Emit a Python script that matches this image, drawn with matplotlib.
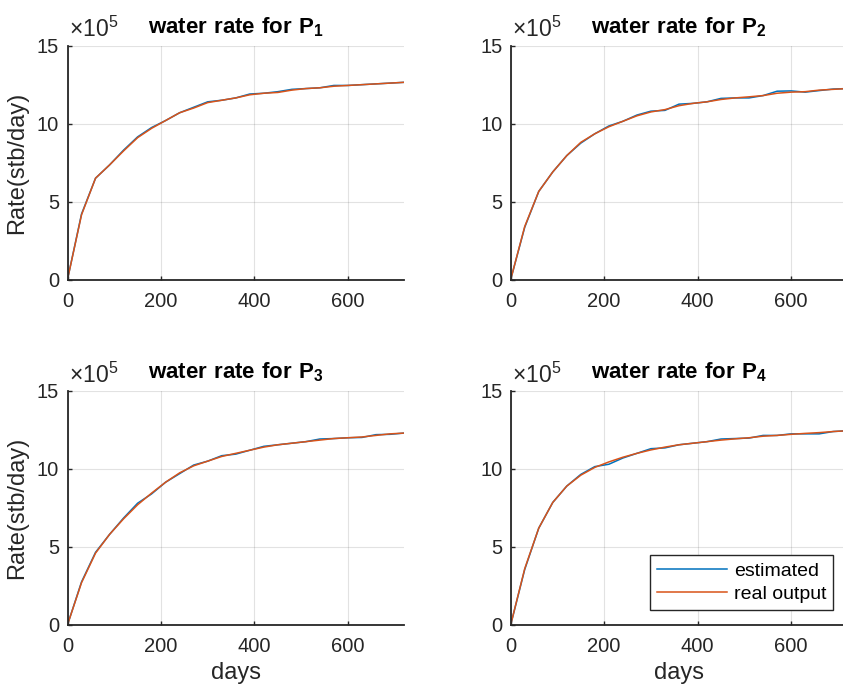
import numpy as np
import matplotlib
matplotlib.use("Agg")
import matplotlib.pyplot as plt

plt.rcParams['font.family'] = ['Liberation Sans', 'DejaVu Sans']
plt.rcParams['mathtext.fontset'] = 'custom'
plt.rcParams['mathtext.rm'] = 'Liberation Sans'
plt.rcParams['mathtext.bf'] = 'Liberation Sans:bold'

# days (sampled roughly every month)
days = [0, 30, 60, 90, 120, 150, 180, 210, 240, 270, 300, 330, 360,
        390, 420, 450, 480, 510, 540, 570, 600, 630, 660, 690, 720]

# water rate, in units of 1e5 stb/day
p1_real = [0, 4.15, 6.5, 7.35, 8.25, 9.1, 9.7, 10.2, 10.7, 11.0, 11.35, 11.5, 11.65,
           11.85, 11.95, 12.0, 12.15, 12.25, 12.3, 12.4, 12.45, 12.5, 12.55, 12.6, 12.65]
p1_est = [0, 4.2, 6.5, 7.35, 8.3, 9.15, 9.75, 10.2, 10.7, 11.05, 11.4, 11.5, 11.65,
          11.9, 11.95, 12.05, 12.2, 12.25, 12.3, 12.45, 12.45, 12.5, 12.55, 12.6, 12.65]

p2_real = [0, 3.4, 5.65, 6.9, 7.95, 8.8, 9.35, 9.8, 10.15, 10.5, 10.75, 10.9, 11.15,
           11.3, 11.4, 11.55, 11.65, 11.72, 11.8, 11.95, 12.02, 12.05, 12.15, 12.2, 12.25]
p2_est = [0, 3.35, 5.65, 6.9, 7.95, 8.75, 9.35, 9.85, 10.15, 10.55, 10.8, 10.85, 11.25,
          11.3, 11.4, 11.62, 11.65, 11.65, 11.8, 12.08, 12.1, 12.02, 12.12, 12.22, 12.25]

p3_real = [0, 2.7, 4.6, 5.8, 6.8, 7.7, 8.45, 9.15, 9.75, 10.2, 10.5, 10.8, 11.0,
           11.2, 11.4, 11.55, 11.65, 11.75, 11.85, 11.95, 12.0, 12.05, 12.15, 12.25, 12.3]
p3_est = [0, 2.75, 4.65, 5.8, 6.85, 7.8, 8.4, 9.15, 9.7, 10.25, 10.5, 10.85, 10.95,
          11.2, 11.45, 11.55, 11.65, 11.75, 11.92, 11.95, 12.0, 12.02, 12.2, 12.22, 12.3]

p4_real = [0, 3.6, 6.2, 7.85, 8.9, 9.6, 10.1, 10.45, 10.75, 11.0, 11.22, 11.4, 11.55,
           11.65, 11.75, 11.85, 11.93, 12.0, 12.1, 12.15, 12.22, 12.28, 12.33, 12.4, 12.45]
p4_est = [0, 3.55, 6.2, 7.85, 8.9, 9.65, 10.15, 10.3, 10.7, 11.0, 11.3, 11.35, 11.55,
          11.65, 11.75, 11.92, 11.95, 11.98, 12.15, 12.15, 12.25, 12.25, 12.25, 12.4, 12.45]

wells = [(p1_est, p1_real), (p2_est, p2_real), (p3_est, p3_real), (p4_est, p4_real)]
titles = ['1', '2', '3', '4']

c_est = (0.0, 0.447, 0.741)
c_real = (0.85, 0.325, 0.098)
dark = (0.15, 0.15, 0.15)

fig = plt.figure(figsize=(8.43, 6.99), dpi=100)
W, H = 843.0, 699.0
boxes = [(67.5, 45.7), (510.7, 45.7), (67.5, 391), (510.7, 391)]
aw, ah = 336.5, 233.8

for i, (est, real) in enumerate(wells):
	x0, ytop = boxes[i]
	ax = fig.add_axes([x0 / W, 1 - (ytop + ah) / H, aw / W, ah / H])
	l1, = ax.plot(days, est, color=c_est, lw=1.1)
	l2, = ax.plot(days, real, color=c_real, lw=1.1)
	ax.set_xlim(0, 720)
	ax.set_ylim(0, 15)
	ax.set_xticks([0, 200, 400, 600])
	ax.set_yticks([0, 5, 10, 15])
	ax.grid(True, color=(0.15, 0.15, 0.15), alpha=0.13, lw=0.8)
	ax.set_axisbelow(True)
	for s in ['top', 'right']:
		ax.spines[s].set_visible(False)
	for s in ['left', 'bottom']:
		ax.spines[s].set_color(dark)
		ax.spines[s].set_linewidth(1.3)
	ax.tick_params(direction='in', length=3, width=1.0, colors=dark,
		labelsize=14.5, labelcolor=dark)
	ax.tick_params(axis='x', pad=9)
	ax.tick_params(axis='y', pad=6)
	ax.set_title(r'$\mathbf{water\ rate\ for\ P_{%s}}$' % titles[i],
		fontsize=16, pad=9)
	ax.text(0.005, 1.015, r'$\times10^{5}$', transform=ax.transAxes,
		ha='left', va='bottom', fontsize=16.5, color=dark)
	if i % 2 == 0:
		ax.set_ylabel('Rate(stb/day)', fontsize=17, color=dark, labelpad=6)
	if i >= 2:
		ax.set_xlabel('days', fontsize=17, color=dark, labelpad=4)
	if i == 3:
		leg = ax.legend([l1, l2], ['estimated', 'real output'], loc='lower right',
			fontsize=14, fancybox=False, framealpha=1, borderpad=0.35,
			handlelength=3.6, handletextpad=0.35, labelspacing=0.3,
			borderaxespad=0, bbox_to_anchor=(0.958, 0.063))
		leg.get_frame().set_edgecolor(dark)
		leg.get_frame().set_linewidth(1.0)

fig.savefig('out.png', dpi=100)
